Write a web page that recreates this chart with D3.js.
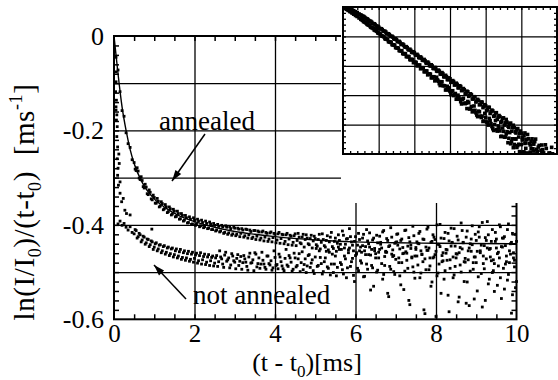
<!DOCTYPE html>
<html><head><meta charset="utf-8">
<script src="https://cdn.jsdelivr.net/npm/d3@7"></script>
<style>
body{margin:0;background:#fff}
svg{display:block}
svg text{font-family:'Liberation Serif','Times New Roman',Times,Tinos,'DejaVu Serif','Noto Serif',serif;fill:#000}
</style>
</head><body>
<svg id="c" width="558" height="380"></svg>
<script>
// ---------------- data ----------------
const sampleTimes = [
0.05,0.1,0.15,0.2,0.25,0.3,0.35,0.4,0.45,0.5,0.55,0.6,0.65,0.7,0.75,0.8,0.85,0.9,0.95,1,
1.05,1.1,1.15,1.2,1.25,1.3,1.35,1.4,1.45,1.5,1.55,1.6,1.65,1.7,1.75,1.8,1.85,1.9,1.95,2,
2.05,2.1,2.15,2.2,2.25,2.3,2.35,2.4,2.45,2.5,2.55,2.6,2.65,2.7,2.75,2.8,2.85,2.9,2.95,3,
3.05,3.1,3.15,3.2,3.25,3.3,3.35,3.4,3.45,3.5,3.55,3.6,3.65,3.7,3.75,3.8,3.85,3.9,3.95,4,
4.05,4.1,4.15,4.2,4.25,4.3,4.35,4.4,4.45,4.5,4.55,4.6,4.65,4.7,4.75,4.8,4.85,4.9,4.95,5,
5.05,5.1,5.15,5.2,5.25,5.3,5.35,5.4,5.45,5.5,5.55,5.6,5.65,5.7,5.75,5.8,5.85,5.9,5.95,6,
6.05,6.1,6.15,6.2,6.25,6.3,6.35,6.4,6.45,6.5,6.55,6.6,6.65,6.7,6.75,6.8,6.85,6.9,6.95,7,
7.05,7.1,7.15,7.2,7.25,7.3,7.35,7.4,7.45,7.5,7.55,7.6,7.65,7.7,7.75,7.8,7.85,7.9,7.95,8,
8.05,8.1,8.15,8.2,8.25,8.3,8.35,8.4,8.45,8.5,8.55,8.6,8.65,8.7,8.75,8.8,8.85,8.9,8.95,9,
9.05,9.1,9.15,9.2,9.25,9.3,9.35,9.4,9.45,9.5,9.55,9.6,9.65,9.7,9.75,9.8,9.85,9.9,9.95,10
];
const annealedValues = [
-0.045,-0.072,-0.118,-0.158,-0.170,-0.205,-0.228,-0.236,-0.262,-0.268,-0.285,-0.286,-0.304,-0.306,-0.322,-0.320,-0.336,-0.331,-0.347,-0.342,
-0.354,-0.350,-0.360,-0.355,-0.366,-0.362,-0.372,-0.366,-0.377,-0.371,-0.382,-0.376,-0.387,-0.380,-0.390,-0.385,-0.395,-0.388,-0.398,-0.390,
-0.399,-0.392,-0.402,-0.395,-0.404,-0.397,-0.407,-0.398,-0.410,-0.401,-0.411,-0.403,-0.413,-0.404,-0.416,-0.405,-0.417,-0.408,-0.419,-0.407,
-0.420,-0.409,-0.418,-0.411,-0.423,-0.410,-0.421,-0.414,-0.426,-0.412,-0.424,-0.415,-0.428,-0.413,-0.426,-0.418,-0.430,-0.415,-0.427,-0.420,
-0.432,-0.416,-0.429,-0.421,-0.435,-0.418,-0.430,-0.424,-0.437,-0.419,-0.433,-0.426,-0.440,-0.420,-0.431,-0.428,-0.442,-0.422,-0.434,-0.429,
-0.445,-0.420,-0.437,-0.431,-0.447,-0.423,-0.436,-0.416,-0.450,-0.428,-0.439,-0.433,-0.452,-0.422,-0.441,-0.429,-0.408,-0.436,-0.455,-0.425,
-0.443,-0.431,-0.458,-0.420,-0.446,-0.434,-0.417,-0.452,-0.428,-0.461,-0.438,-0.424,-0.449,-0.412,-0.456,-0.433,-0.444,-0.426,-0.465,-0.437,
-0.419,-0.451,-0.430,-0.460,-0.411,-0.445,-0.436,-0.468,-0.423,-0.452,-0.439,-0.414,-0.462,-0.431,-0.447,-0.405,-0.470,-0.435,-0.426,-0.456,
-0.441,-0.399,-0.465,-0.429,-0.452,-0.418,-0.474,-0.437,-0.408,-0.461,-0.432,-0.448,-0.412,-0.478,-0.426,-0.455,-0.440,-0.402,-0.468,-0.433,
-0.415,-0.459,-0.395,-0.444,-0.472,-0.421,-0.450,-0.410,-0.482,-0.430,-0.458,-0.404,-0.447,-0.425,-0.466,-0.398,-0.440,-0.418,-0.475,-0.435
];
const notAnnealedValues = [
-0.150,-0.398,-0.392,-0.401,-0.397,-0.405,-0.411,-0.404,-0.416,-0.419,-0.412,-0.425,-0.421,-0.432,-0.426,-0.438,-0.431,-0.442,-0.436,-0.447,
-0.438,-0.451,-0.442,-0.455,-0.444,-0.458,-0.447,-0.461,-0.449,-0.463,-0.451,-0.466,-0.452,-0.469,-0.455,-0.470,-0.456,-0.473,-0.458,-0.471,
-0.460,-0.476,-0.459,-0.474,-0.462,-0.479,-0.463,-0.476,-0.466,-0.481,-0.465,-0.478,-0.468,-0.483,-0.464,-0.477,-0.470,-0.485,-0.466,-0.479,
-0.471,-0.486,-0.467,-0.480,-0.472,-0.488,-0.468,-0.481,-0.474,-0.459,-0.489,-0.470,-0.483,-0.475,-0.490,-0.466,-0.482,-0.476,-0.491,-0.469,
-0.484,-0.462,-0.478,-0.493,-0.471,-0.485,-0.465,-0.479,-0.494,-0.470,-0.486,-0.461,-0.480,-0.495,-0.472,-0.487,-0.463,-0.481,-0.497,-0.468,
-0.488,-0.455,-0.482,-0.499,-0.470,-0.489,-0.458,-0.483,-0.501,-0.466,-0.490,-0.452,-0.484,-0.504,-0.472,-0.491,-0.449,-0.478,-0.507,-0.465,
-0.492,-0.455,-0.481,-0.510,-0.463,-0.494,-0.447,-0.486,-0.530,-0.470,-0.496,-0.452,-0.482,-0.505,-0.458,-0.545,-0.488,-0.462,-0.499,-0.473,
-0.443,-0.508,-0.480,-0.537,-0.457,-0.492,-0.569,-0.470,-0.500,-0.448,-0.485,-0.512,-0.463,-0.580,-0.495,-0.454,-0.487,-0.521,-0.468,-0.594,
-0.502,-0.446,-0.478,-0.515,-0.460,-0.549,-0.492,-0.438,-0.506,-0.470,-0.563,-0.485,-0.451,-0.520,-0.566,-0.474,-0.498,-0.442,-0.557,-0.480,
-0.510,-0.455,-0.574,-0.493,-0.433,-0.525,-0.468,-0.501,-0.541,-0.449,-0.487,-0.512,-0.428,-0.536,-0.478,-0.505,-0.462,-0.548,-0.489,-0.520
];
// interleaved samples (between the above)
const sampleTimes2 = [
0.525,0.575,0.625,0.675,0.725,0.775,0.825,0.875,0.925,0.975,1.025,1.075,1.125,1.175,1.225,1.275,1.325,1.375,1.425,1.475,
1.525,1.575,1.625,1.675,1.725,1.775,1.825,1.875,1.925,1.975,2.025,2.075,2.125,2.175,2.225,2.275,2.325,2.375,2.425,2.475,
2.525,2.575,2.625,2.675,2.725,2.775,2.825,2.875,2.925,2.975,3.025,3.075,3.125,3.175,3.225,3.275,3.325,3.375,3.425,3.475,
3.525,3.575,3.625,3.675,3.725,3.775,3.825,3.875,3.925,3.975,4.025,4.075,4.125,4.175,4.225,4.275,4.325,4.375,4.425,4.475,
4.525,4.575,4.625,4.675,4.725,4.775,4.825,4.875,4.925,4.975,5.025,5.075,5.125,5.175,5.225,5.275,5.325,5.375,5.425,5.475,
5.525,5.575,5.625,5.675,5.725,5.775,5.825,5.875,5.925,5.975,6.025,6.075,6.125,6.175,6.225,6.275,6.325,6.375,6.425,6.475,
6.525,6.575,6.625,6.675,6.725,6.775,6.825,6.875,6.925,6.975,7.025,7.075,7.125,7.175,7.225,7.275,7.325,7.375,7.425,7.475,
7.525,7.575,7.625,7.675,7.725,7.775,7.825,7.875,7.925,7.975,8.025,8.075,8.125,8.175,8.225,8.275,8.325,8.375,8.425,8.475,
8.525,8.575,8.625,8.675,8.725,8.775,8.825,8.875,8.925,8.975,9.025,9.075,9.125,9.175,9.225,9.275,9.325,9.375,9.425,9.475,
9.525,9.575,9.625,9.675,9.725,9.775,9.825,9.875,9.925,9.975
];
const annealedValues2 = [
-0.282,-0.279,-0.301,-0.298,-0.319,-0.314,-0.334,-0.326,-0.345,-0.337,-0.354,-0.344,-0.362,-0.351,-0.368,-0.357,-0.374,-0.362,-0.379,-0.367,
-0.383,-0.371,-0.388,-0.376,-0.392,-0.380,-0.396,-0.383,-0.399,-0.385,-0.401,-0.388,-0.404,-0.390,-0.406,-0.392,-0.408,-0.394,-0.410,-0.397,
-0.413,-0.399,-0.415,-0.401,-0.418,-0.402,-0.420,-0.404,-0.422,-0.405,-0.423,-0.407,-0.425,-0.408,-0.426,-0.409,-0.428,-0.411,-0.429,-0.412,
-0.431,-0.413,-0.432,-0.415,-0.434,-0.416,-0.435,-0.417,-0.436,-0.418,-0.438,-0.419,-0.439,-0.420,-0.440,-0.421,-0.442,-0.422,-0.443,-0.423,
-0.444,-0.418,-0.438,-0.426,-0.447,-0.421,-0.440,-0.429,-0.449,-0.424,-0.442,-0.431,-0.451,-0.419,-0.444,-0.433,-0.453,-0.426,-0.446,-0.435,
-0.456,-0.421,-0.441,-0.413,-0.449,-0.430,-0.459,-0.425,-0.443,-0.435,-0.462,-0.418,-0.447,-0.428,-0.455,-0.410,-0.440,-0.464,-0.432,-0.450,
-0.422,-0.458,-0.437,-0.415,-0.467,-0.429,-0.446,-0.406,-0.453,-0.439,-0.420,-0.470,-0.433,-0.448,-0.412,-0.460,-0.427,-0.443,-0.403,-0.466,
-0.436,-0.418,-0.455,-0.430,-0.472,-0.409,-0.449,-0.437,-0.421,-0.463,-0.400,-0.442,-0.428,-0.476,-0.416,-0.453,-0.434,-0.407,-0.468,-0.445,
-0.424,-0.459,-0.396,-0.438,-0.471,-0.413,-0.449,-0.430,-0.480,-0.420,-0.456,-0.404,-0.443,-0.466,-0.427,-0.393,-0.452,-0.435,-0.474,-0.416,
-0.461,-0.400,-0.446,-0.428,-0.483,-0.410,-0.455,-0.437,-0.470,-0.420
];
const notAnnealedValues2 = [
-0.410,-0.428,-0.418,-0.436,-0.424,-0.441,-0.430,-0.446,-0.434,-0.452,-0.440,-0.455,-0.443,-0.459,-0.446,-0.462,-0.449,-0.465,-0.451,-0.468,
-0.455,-0.470,-0.457,-0.473,-0.459,-0.475,-0.461,-0.477,-0.462,-0.479,-0.464,-0.481,-0.465,-0.483,-0.467,-0.484,-0.468,-0.486,-0.469,-0.487,
-0.470,-0.488,-0.455,-0.472,-0.490,-0.458,-0.474,-0.491,-0.461,-0.476,-0.493,-0.463,-0.477,-0.494,-0.465,-0.479,-0.496,-0.460,-0.480,-0.497,
-0.462,-0.482,-0.492,-0.458,-0.483,-0.494,-0.466,-0.485,-0.496,-0.455,-0.486,-0.493,-0.468,-0.487,-0.497,-0.452,-0.488,-0.470,-0.498,-0.460,
-0.489,-0.472,-0.499,-0.457,-0.484,-0.501,-0.465,-0.490,-0.474,-0.503,-0.450,-0.486,-0.469,-0.504,-0.478,-0.456,-0.492,-0.506,-0.462,-0.483,
-0.508,-0.447,-0.480,-0.495,-0.466,-0.512,-0.453,-0.488,-0.471,-0.520,-0.459,-0.497,-0.476,-0.444,-0.509,-0.483,-0.463,-0.538,-0.491,-0.455,
-0.500,-0.470,-0.441,-0.515,-0.486,-0.458,-0.552,-0.494,-0.467,-0.505,-0.436,-0.480,-0.527,-0.461,-0.498,-0.475,-0.560,-0.450,-0.489,-0.513,
-0.466,-0.440,-0.502,-0.478,-0.588,-0.454,-0.495,-0.530,-0.470,-0.431,-0.508,-0.483,-0.545,-0.459,-0.497,-0.475,-0.584,-0.445,-0.512,-0.488,
-0.462,-0.553,-0.500,-0.437,-0.479,-0.521,-0.571,-0.456,-0.494,-0.468,-0.540,-0.426,-0.503,-0.482,-0.560,-0.449,-0.515,-0.476,-0.497,-0.435,
-0.528,-0.470,-0.556,-0.492,-0.444,-0.517,-0.480,-0.587,-0.459,-0.533
];
// early transient points of the not-annealed sample
const transientTimes  = [0.04,0.05,0.04,0.06,0.05,0.07,0.06,0.08,0.07,0.09,0.08,0.10,0.09,0.11,0.12,0.13,0.15,0.15,0.23,0.19,0.27,0.31,0.40,0.94];
const transientValues = [-0.076,-0.097,-0.118,-0.136,-0.157,-0.167,-0.178,-0.192,-0.213,-0.235,-0.260,-0.280,-0.295,-0.316,-0.250,-0.270,-0.309,-0.333,-0.344,-0.351,-0.369,-0.376,-0.379,-0.409];
// fitted curve for the annealed sample
const fitTimes  = [0,0.05,0.1,0.2,0.3,0.4,0.5,0.7,1.0,1.3,1.6,2.0,2.5,3.0,3.5,4.0,5.0,6.0,7.0,8.0,10.0];
const fitValues = [0,-0.04,-0.08,-0.15,-0.2,-0.24,-0.27,-0.31,-0.345,-0.365,-0.38,-0.393,-0.405,-0.414,-0.42,-0.425,-0.432,-0.436,-0.438,-0.439,-0.44];

const xTickValues = [0,2,4,6,8,10];
const yTickValues = [0,-0.2,-0.4,-0.6];
const yTickLabels = ["0","-0.2","-0.4","-0.6"];

// ---------------- drawing ----------------
const svg = d3.select('#c');
const FONT = "'Liberation Serif','Times New Roman',Times,Tinos,'DejaVu Serif','Noto Serif',serif";
const L=114, R=516.5, T=36, B=319.3;
const x = d3.scaleLinear().domain([0,10]).range([L,R]);
const y = d3.scaleLinear().domain([0,-0.6]).range([T,B]);

function clean(g){ g.select('.domain').remove(); g.selectAll('line').attr('stroke','#000'); return g; }

// grid
svg.append('g').attr('transform',`translate(${L},0)`)
  .call(d3.axisLeft(y).tickValues([-0.1,-0.2,-0.3,-0.4,-0.5]).tickSize(-(R-L)).tickFormat(''))
  .call(clean).selectAll('line').attr('stroke-width',1.2);
svg.append('g').attr('transform',`translate(0,${B})`)
  .call(d3.axisBottom(x).tickValues([2,4,6,8]).tickSize(-(B-T)).tickFormat(''))
  .call(clean).selectAll('line').attr('stroke-width',1.3);

// minor ticks (inward, all four sides)
const xm = d3.range(1,20).map(i=>i*0.5);
const ym = d3.range(1,30).map(i=>-i*0.02);
svg.append('g').attr('transform',`translate(0,${B})`).call(d3.axisBottom(x).tickValues(xm).tickSize(-5).tickFormat('')).call(clean).selectAll('line').attr('stroke-width',1.5);
svg.append('g').attr('transform',`translate(0,${T})`).call(d3.axisTop(x).tickValues(xm).tickSize(-5).tickFormat('')).call(clean).selectAll('line').attr('stroke-width',1.5);
svg.append('g').attr('transform',`translate(${L},0)`).call(d3.axisLeft(y).tickValues(ym).tickSize(-5).tickFormat('')).call(clean).selectAll('line').attr('stroke-width',1.5);
svg.append('g').attr('transform',`translate(${R},0)`).call(d3.axisRight(y).tickValues(ym).tickSize(-5).tickFormat('')).call(clean).selectAll('line').attr('stroke-width',1.5);

// frame
svg.append('rect').attr('x',L).attr('y',T).attr('width',R-L).attr('height',B-T)
  .attr('fill','none').attr('stroke','#000').attr('stroke-width',2);

// data points
const MS = 2.8;
function squares(g, pts, sx, sy, s){
  g.selectAll(null).data(pts).join('rect')
    .attr('x',d=>sx(d[0])-s/2).attr('y',d=>sy(d[1])-s/2)
    .attr('width',s).attr('height',s).attr('fill','#000');
}
const annPts = sampleTimes.map((t,i)=>[t,annealedValues[i]])
  .concat(sampleTimes2.map((t,i)=>[t,annealedValues2[i]]));
const notPts = sampleTimes.map((t,i)=>[t,notAnnealedValues[i]])
  .concat(sampleTimes2.map((t,i)=>[t,notAnnealedValues2[i]]));
const trPts  = transientTimes.map((t,i)=>[t,transientValues[i]]);
const gPts = svg.append('g');
squares(gPts, annPts, x, y, MS);
squares(gPts, notPts, x, y, MS);
squares(gPts, trPts, x, y, MS);

// fit curve
svg.append('path').datum(fitTimes.map((t,i)=>[t,fitValues[i]]))
  .attr('d', d3.line().x(d=>x(d[0])).y(d=>y(d[1])).curve(d3.curveMonotoneX))
  .attr('fill','none').attr('stroke','#000').attr('stroke-width',1.4);

// tick labels
const gx = svg.append('g').attr('transform',`translate(0,${B})`)
  .call(d3.axisBottom(x).tickValues(xTickValues).tickSize(0).tickPadding(5).tickFormat(d3.format('d')));
gx.select('.domain').remove();
gx.attr('font-family',FONT);
gx.selectAll('text').attr('font-family',FONT).attr('font-size',25).attr('fill','#000');
const gy = svg.append('g').attr('transform',`translate(${L},0)`)
  .call(d3.axisLeft(y).tickValues(yTickValues).tickSize(0).tickPadding(10).tickFormat((d,i)=>yTickLabels[i]));
gy.select('.domain').remove();
gy.attr('font-family',FONT);
gy.selectAll('text').attr('font-family',FONT).attr('font-size',26).attr('fill','#000');

// white mask behind the inset
svg.append('rect').attr('x',341).attr('y',0).attr('width',217).attr('height',203).attr('fill','#fff');

// ---------------- inset ----------------
const iL=343, iR=557, iT=7, iB=154;
const ix = d3.scaleLinear().domain([0,6]).range([iL,iR]);
const iy = d3.scaleLinear().domain([0,-2.5]).range([iT,iB]);
svg.append('rect').attr('x',iL).attr('y',iT).attr('width',iR-iL).attr('height',iB-iT).attr('fill','#fff');
svg.append('g').attr('transform',`translate(0,${iB})`)
  .call(d3.axisBottom(ix).tickValues([1,2,3,4,5]).tickSize(-(iB-iT)).tickFormat(''))
  .call(clean).selectAll('line').attr('stroke-width',1.2);
svg.append('g').attr('transform',`translate(${iL},0)`)
  .call(d3.axisLeft(iy).tickValues([-0.5,-1,-1.5,-2]).tickSize(-(iR-iL)).tickFormat(''))
  .call(clean).selectAll('line').attr('stroke-width',1.2);
const ixm = d3.range(1,30).map(i=>i*0.2);
const iym = d3.range(1,25).map(i=>-i*0.1);
svg.append('g').attr('transform',`translate(0,${iB})`).call(d3.axisBottom(ix).tickValues(ixm).tickSize(-3).tickFormat('')).call(clean).selectAll('line').attr('stroke-width',1.3);
svg.append('g').attr('transform',`translate(0,${iT})`).call(d3.axisTop(ix).tickValues(ixm).tickSize(-3).tickFormat('')).call(clean).selectAll('line').attr('stroke-width',1.3);
svg.append('g').attr('transform',`translate(${iL},0)`).call(d3.axisLeft(iy).tickValues(iym).tickSize(-3).tickFormat('')).call(clean).selectAll('line').attr('stroke-width',1.3);
svg.append('g').attr('transform',`translate(${iR},0)`).call(d3.axisRight(iy).tickValues(iym).tickSize(-3).tickFormat('')).call(clean).selectAll('line').attr('stroke-width',1.3);

svg.append('clipPath').attr('id','ic').append('rect').attr('x',iL).attr('y',iT).attr('width',iR-iL).attr('height',iB-iT);
const gi = svg.append('g').attr('clip-path','url(#ic)');
// inset shows ln(I/I0) = (t - t0) * value, same measurements
const toLn = p => [p[0], p[0]*p[1]];
squares(gi, [[0,0],[0.03,-0.005]].concat(annPts.map(toLn)), ix, iy, 3.6);
squares(gi, notPts.filter(p=>p[0]>0.06).map(toLn), ix, iy, 3.6);
squares(gi, trPts.map(toLn), ix, iy, 3.6);
svg.append('rect').attr('x',iL).attr('y',iT).attr('width',iR-iL).attr('height',iB-iT)
  .attr('fill','none').attr('stroke','#000').attr('stroke-width',2);

// ---------------- annotations ----------------
function label(xp, yp, str){
  return svg.append('text').attr('x',xp).attr('y',yp).attr('font-family',FONT).attr('font-size',27).text(str);
}
label(159,130,'annealed');
label(193,304,'not annealed');
function arrow(x1,y1,x2,y2){
  svg.append('line').attr('x1',x1).attr('y1',y1).attr('x2',x2).attr('y2',y2).attr('stroke','#000').attr('stroke-width',1.5);
  const a=Math.atan2(y2-y1,x2-x1), len=11, w=3.5;
  const bx=x2-len*Math.cos(a), by=y2-len*Math.sin(a);
  const px=-Math.sin(a)*w, py=Math.cos(a)*w;
  svg.append('path').attr('d',`M${x2},${y2}L${bx+px},${by+py}L${bx-px},${by-py}Z`).attr('fill','#000');
}
arrow(205,134,172,181);
arrow(186,299,154,265);

// axis titles
const xt = svg.append('text').attr('x',307).attr('y',371).attr('text-anchor','middle').attr('font-family',FONT).attr('font-size',26);
xt.append('tspan').text('(t - t');
xt.append('tspan').attr('font-size',17).attr('dy',6).text('0');
xt.append('tspan').attr('dy',-6).text(')[ms]');

const yt = svg.append('text').attr('transform','translate(34,202) rotate(-90)').attr('text-anchor','middle')
  .attr('font-family',FONT).attr('font-size',29).attr('letter-spacing',0.6);
yt.append('tspan').text('ln(I/I');
yt.append('tspan').attr('font-size',18).attr('dy',7).text('0');
yt.append('tspan').attr('dy',-7).text(')/(t-t');
yt.append('tspan').attr('font-size',18).attr('dy',7).text('0');
yt.append('tspan').attr('dy',-7).text(')\u00a0\u00a0[ms');
yt.append('tspan').attr('font-size',18).attr('dy',-12).text('-1');
yt.append('tspan').attr('dy',12).text(']');
</script>
</body></html>
